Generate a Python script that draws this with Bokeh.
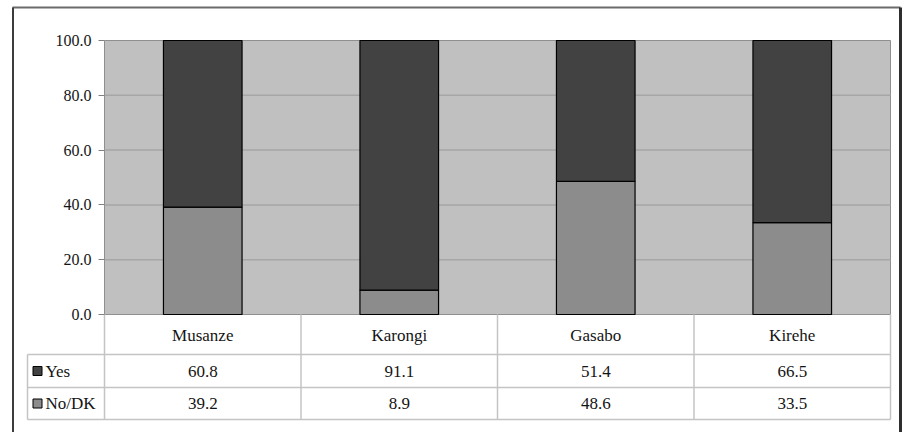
from bokeh.plotting import figure
from bokeh.models import ColumnDataSource, LinearAxis, FixedTicker, Range1d, PrintfTickFormatter
from bokeh.core.properties import value
from bokeh.embed import file_html
from bokeh.resources import INLINE

# ---- data -------------------------------------------------------------
districts = ["Musanze", "Karongi", "Gasabo", "Kirehe"]
yes = [60.8, 91.1, 51.4, 66.5]
no_dk = [39.2, 8.9, 48.6, 33.5]
series_names = ["Yes", "No/DK"]
y_ticks = [0, 20, 40, 60, 80, 100]

# ---- styling ----------------------------------------------------------
YES_COLOR = "#424242"
NO_COLOR = "#8c8c8c"
AREA_COLOR = "#c0c0c0"
GRID_COLOR = "#a6a6a6"
TABLE_LINE = "#c4c4c4"
TEXT_COLOR = "#141414"
FONT = "Liberation Serif"

# ---- page geometry (pixels) --------------------------------------------
W, H = 905, 432
PX_LEFT, PX_RIGHT = 104, 890      # chart area left/right
PX_TOP, PX_ZERO = 40, 314         # value 100 / value 0
ROW_HEADER, ROW_YES, ROW_NO = 354, 387, 419   # table row bottoms
LEGEND_LEFT = 27

n = len(districts)
x_per_px = n / (PX_RIGHT - PX_LEFT)
y_per_px = 100 / (PX_ZERO - PX_TOP)


def xd(px):
    return (px - PX_LEFT) * x_per_px


def yd(px):
    return (PX_ZERO - px) * y_per_px


p = figure(width=W, height=H, title=None,
           x_range=Range1d(xd(0), xd(W)), y_range=Range1d(yd(H), yd(0)),
           x_axis_type=None, y_axis_type=None,
           min_border=0, toolbar_location=None, output_backend="svg",
           outline_line_color=None, background_fill_color="white",
           border_fill_color="white")

# outer frame
p.segment(x0=[xd(12)], y0=[yd(7)], x1=[xd(900)], y1=[yd(7)], line_color="#6b6b6b", line_width=2)
p.segment(x0=[xd(12.5)], y0=[yd(7)], x1=[xd(12.5)], y1=[yd(H + 5)], line_color="#3c3c3c", line_width=2)
p.segment(x0=[xd(900)], y0=[yd(7)], x1=[xd(900)], y1=[yd(H + 5)], line_color="#2e2e2e", line_width=3)

# chart area and gridlines
p.quad(left=[0], right=[n], bottom=[0], top=[100], fill_color=AREA_COLOR,
       line_color="#8f8f8f", line_width=1)
inner = [t for t in y_ticks if 0 < t < 100]
p.segment(x0=[0] * len(inner), y0=inner, x1=[n] * len(inner), y1=inner,
          line_color=GRID_COLOR, line_width=1.5)

# stacked bars
centers = [i + 0.5 for i in range(n)]
src = ColumnDataSource(dict(x=centers, no_dk=no_dk, yes=yes, district=districts))
p.vbar_stack(["no_dk", "yes"], x="x", width=0.4, source=src,
             color=[NO_COLOR, YES_COLOR], line_color="black", line_width=1.2)

# value axis, pinned to the left edge of the chart area
ax = LinearAxis(fixed_location=0, ticker=FixedTicker(ticks=y_ticks),
                formatter=PrintfTickFormatter(format="%.1f"))
ax.axis_line_color = None
ax.major_tick_in = 0
ax.major_tick_out = 6
ax.major_tick_line_color = "#808080"
ax.minor_tick_line_color = None
ax.major_label_standoff = 7
ax.major_label_text_font = FONT
ax.major_label_text_font_size = "16px"
ax.major_label_text_color = TEXT_COLOR
p.add_layout(ax, "left")

# data table below the chart
for row in (ROW_HEADER, ROW_YES, ROW_NO):
    p.segment(x0=[xd(LEGEND_LEFT)], y0=[yd(row)], x1=[n], y1=[yd(row)],
              line_color=TABLE_LINE, line_width=1.5)
bounds = list(range(n + 1))
p.segment(x0=bounds, y0=[0] * len(bounds), x1=bounds, y1=[yd(ROW_NO)] * len(bounds),
          line_color=TABLE_LINE, line_width=1.5)
p.segment(x0=[xd(LEGEND_LEFT)], y0=[yd(ROW_HEADER)], x1=[xd(LEGEND_LEFT)], y1=[yd(ROW_NO)],
          line_color=TABLE_LINE, line_width=1.5)

text_kw = dict(text_font=value(FONT), text_font_size="17px", text_color=TEXT_COLOR,
               text_baseline="middle")
p.text(x=centers, y=[yd((PX_ZERO + ROW_HEADER) / 2 + 1)] * n, text=districts,
       text_align="center", **text_kw)

row_mid = [yd((ROW_HEADER + ROW_YES) / 2), yd((ROW_YES + ROW_NO) / 2)]
for series, mid in zip([yes, no_dk], row_mid):
    p.text(x=centers, y=[mid] * n, text=[f"{v:.1f}" for v in series],
           text_align="center", **text_kw)

# legend keys inside the table
p.scatter(x=[xd(37)] * 2, y=row_mid, marker="square", size=9,
          fill_color=[YES_COLOR, NO_COLOR], line_color="black", line_width=1)
p.text(x=[xd(45)] * 2, y=row_mid, text=series_names, text_align="left", **text_kw)

open("out.html", "w").write(file_html(p, INLINE))
